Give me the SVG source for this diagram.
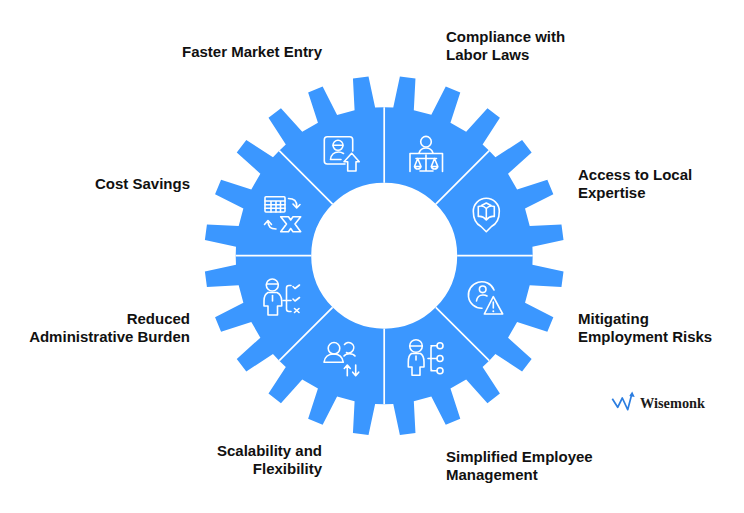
<svg xmlns="http://www.w3.org/2000/svg" width="744" height="513" viewBox="0 0 744 513">
<style>
.sec{fill:#3b97ff}
.ic{fill:none;stroke:#fff;stroke-width:1.6;stroke-linecap:round;stroke-linejoin:round}
.icf{fill:#fff}
.lb{font:bold 15px "Liberation Sans",Arial,sans-serif;fill:#111}
.e{text-anchor:end}
.sep{stroke:#fff;stroke-width:1.7;fill:none}
</style>
<defs>
<path id="sector" d="M0,-73V-148.5L-9.07,-148.22L-15.69,-179.31L-31.26,-177.27L-29.61,-145.52L-47.12,-140.82L-61.56,-169.14L-76.07,-163.14L-66.26,-132.9L-81.96,-123.83L-103.24,-147.45L-115.7,-137.89L-98.4,-111.22L-105,-105L-51.62,-51.62A73,73 0 0 1 0,-73Z"/>
</defs>
<rect width="744" height="513" fill="#fff"/>
<g id="node-faster-market-entry">
<use href="#sector" class="sec" transform="translate(384.2 255.7)"/>
<g class="ic">
<path d="M345,164H327.3a3,3 0 0 1-3-3V139.7a3,3 0 0 1 3-3H349.7a3,3 0 0 1 3,3V151"/>
<circle cx="338" cy="145.3" r="5"/><path d="M333.2,145.3H342.8"/>
<path d="M330.5,159.5c.5-5 4-7.500 8-7.500 2,0 3.500.5 5,1.500M330.500,159.500H341"/>
<path d="M351.700,153.300L344,161.700H347.700V171H356V161.700H359.300Z"/>
</g>
<text class="lb" x="182" y="56.500">Faster Market Entry</text>
</g>
<g id="node-compliance">
<use href="#sector" class="sec" transform="translate(384.2 255.7) rotate(45)"/>
<g class="ic">
<circle cx="426" cy="141.700" r="5.300"/>
<path d="M419,153c1-3 4-5 7-5s6,2 7,5M410,171.500V153.500H442.500V171.500"/>
<path d="M426,155V170.500M420,171H433M416,158.500H436.500"/>
<path d="M417.700,158.500L414.500,166.500H421ZM414.500,166.500a3.300,3 0 0 0 6.500,0M434.500,158.500L431.300,166.500H437.800ZM431.300,166.500a3.300,3 0 0 0 6.500,0"/>
</g>
<text class="lb" x="446" y="42">Compliance with</text>
<text class="lb" x="446" y="60">Labor Laws</text>
</g>
<g id="node-local-expertise">
<use href="#sector" class="sec" transform="translate(384.2 255.7) rotate(90)"/>
<g class="ic">
<path d="M481,226.500C476,224 473.300,218 473.300,211.300A13,13 0 0 1 499.300,211.300C499.300,218 496.500,224 491.500,226.500L486.300,231.700Z"/>
<path d="M486.300,208.500C484,206 481,205.500 478.300,206.500V216.500C481,216 484,217 486.300,220C488.600,217 491.500,216 494.300,216.500V206.500C491.500,205.500 488.600,206 486.300,208.500ZM486.300,208.500V220M481.500,205.500L486.300,203L491,205.500"/>
</g>
<text class="lb" x="578" y="180">Access to Local</text>
<text class="lb" x="578" y="198">Expertise</text>
</g>
<g id="node-employment-risks">
<use href="#sector" class="sec" transform="translate(384.2 255.700) rotate(135)"/>
<g class="ic">
<path d="M494,290A13.300,13.300 0 1 0 482,308.300"/>
<circle cx="482.700" cy="289.300" r="3.300"/>
<path d="M476.500,301c.5-3.500 3-6 6.500-6 1.500,0 3,.3 4,1"/>
<path d="M493.300,296.700L502.700,314H484.300Z"/>
<path d="M493.300,302V308"/>
</g>
<circle class="icf" cx="493.300" cy="311.200" r="1"/>
<text class="lb" x="578" y="324">Mitigating</text>
<text class="lb" x="578" y="342">Employment Risks</text>
</g>
<g id="node-employee-management">
<use href="#sector" class="sec" transform="translate(384.2 255.700) rotate(180)"/>
<g class="ic">
<circle cx="416" cy="346" r="6.300"/><path d="M410,346H422"/>
<path d="M411.500,353.500H420.500C423,355 424,358 424,362V367H420V375.300H412V367H408.300V362C408.300,358 409,355 411.500,353.500Z"/>
<path d="M416,356V360"/>
<path d="M428,358.500H431M431,345.700H437M431,370.700H437M434,345.700H433a2,2 0 0 0-2,2V368.700a2,2 0 0 0 2,2M431,358.500H437"/>
<circle cx="440" cy="345.700" r="3"/><circle cx="440" cy="358.500" r="3"/><circle cx="440" cy="370.700" r="3"/>
</g>
<text class="lb" x="446" y="462">Simplified Employee</text>
<text class="lb" x="446" y="480">Management</text>
</g>
<g id="node-scalability">
<use href="#sector" class="sec" transform="translate(384.200 255.700) rotate(-135)"/>
<g class="ic">
<circle cx="334" cy="348.300" r="5.800"/>
<path d="M324,362.300C324.500,357 328.500,354 333.700,354S342.500,357 343.300,362.300Z"/>
<path d="M344.500,344.500A5.200,5.200 0 1 1 346.500,352.500M344,356C346,353 353,353 355,356"/>
<path d="M347.300,375.700V365.500M344.300,368.500L347.300,365L350.300,368.500M355.700,365V375.200M352.700,372.200L355.700,375.700L358.700,372.200"/>
</g>
<text class="lb e" x="322" y="456">Scalability and</text>
<text class="lb e" x="322" y="474">Flexibility</text>
</g>
<g id="node-admin-burden">
<use href="#sector" class="sec" transform="translate(384.200 255.700) rotate(-90)"/>
<g class="ic">
<circle cx="272.300" cy="285" r="6"/><path d="M266.500,284H278"/>
<path d="M268,292.500H277C280,294 281.700,297 281.700,301V306H277.500V315H268V306H264V301C264,297 265,294 268,292.500Z"/>
<path d="M272.500,295.500V301"/>
<path d="M291,285.500H289a2.500,2.500 0 0 0-2.500,2.500V309a2.500,2.500 0 0 0 2.500,2.500H291M283,300.500H291"/>
<path d="M293,286.500L295,288.500L299.500,285M293,299L295,301L299.500,297.500M294.500,308.500L299,312.500M299,308.500L294.500,312.500"/>
</g>
<text class="lb e" x="190" y="324">Reduced</text>
<text class="lb e" x="190" y="342">Administrative Burden</text>
</g>
<g id="node-cost-savings">
<use href="#sector" class="sec" transform="translate(384.200 255.700) rotate(-45)"/>
<g class="ic">
<rect x="265" y="196.700" width="20" height="15.300" rx="1"/>
<path d="M265,201H285M265,204.700H285M265,208.300H285M271,201V212M276,201V212M280.500,201V212"/>
<path d="M288.500,198.500C294,198.500 297,201 296.700,206.500M293,204L296.700,208L300,204.500"/>
<path d="M276,229C270,229 268,226 268,221.500M264.500,224.500L268,220.500L271.500,224.500"/>
<path d="M280.700,216.700H288.500L290.700,220L293,216.700H300.700L295,224L300.700,231.700H293L290.700,228.500L288.500,231.700H280.700L286.500,224Z"/>
</g>
<text class="lb e" x="190" y="189">Cost Savings</text>
</g>
<g id="connectors">
<path class="sep" d="M384.200,182.700V107.200M384.200,328.700V404.200M311.200,255.700H235.700M457.200,255.700H532.700M332.600,204.100L279.200,150.700M435.800,204.100L489.200,150.700M332.600,307.300L279.200,360.700M435.800,307.300L489.200,360.700"/>
</g>
<g id="logo">
<path d="M612.300,398.700L617.700,407.300L622.300,398L627.700,409.700L631.700,394.500" fill="none" stroke="#2b7de0" stroke-width="1.700" stroke-linejoin="round"/>
<path d="M632.200,391.500L634.700,397L629.300,396Z" fill="#2b7de0"/>
<text x="640" y="407.500" font-family="'Liberation Serif',serif" font-weight="700" font-size="14.500" fill="#1a1a1a" textLength="65" lengthAdjust="spacingAndGlyphs">Wisemonk</text>
</g>
</svg>
